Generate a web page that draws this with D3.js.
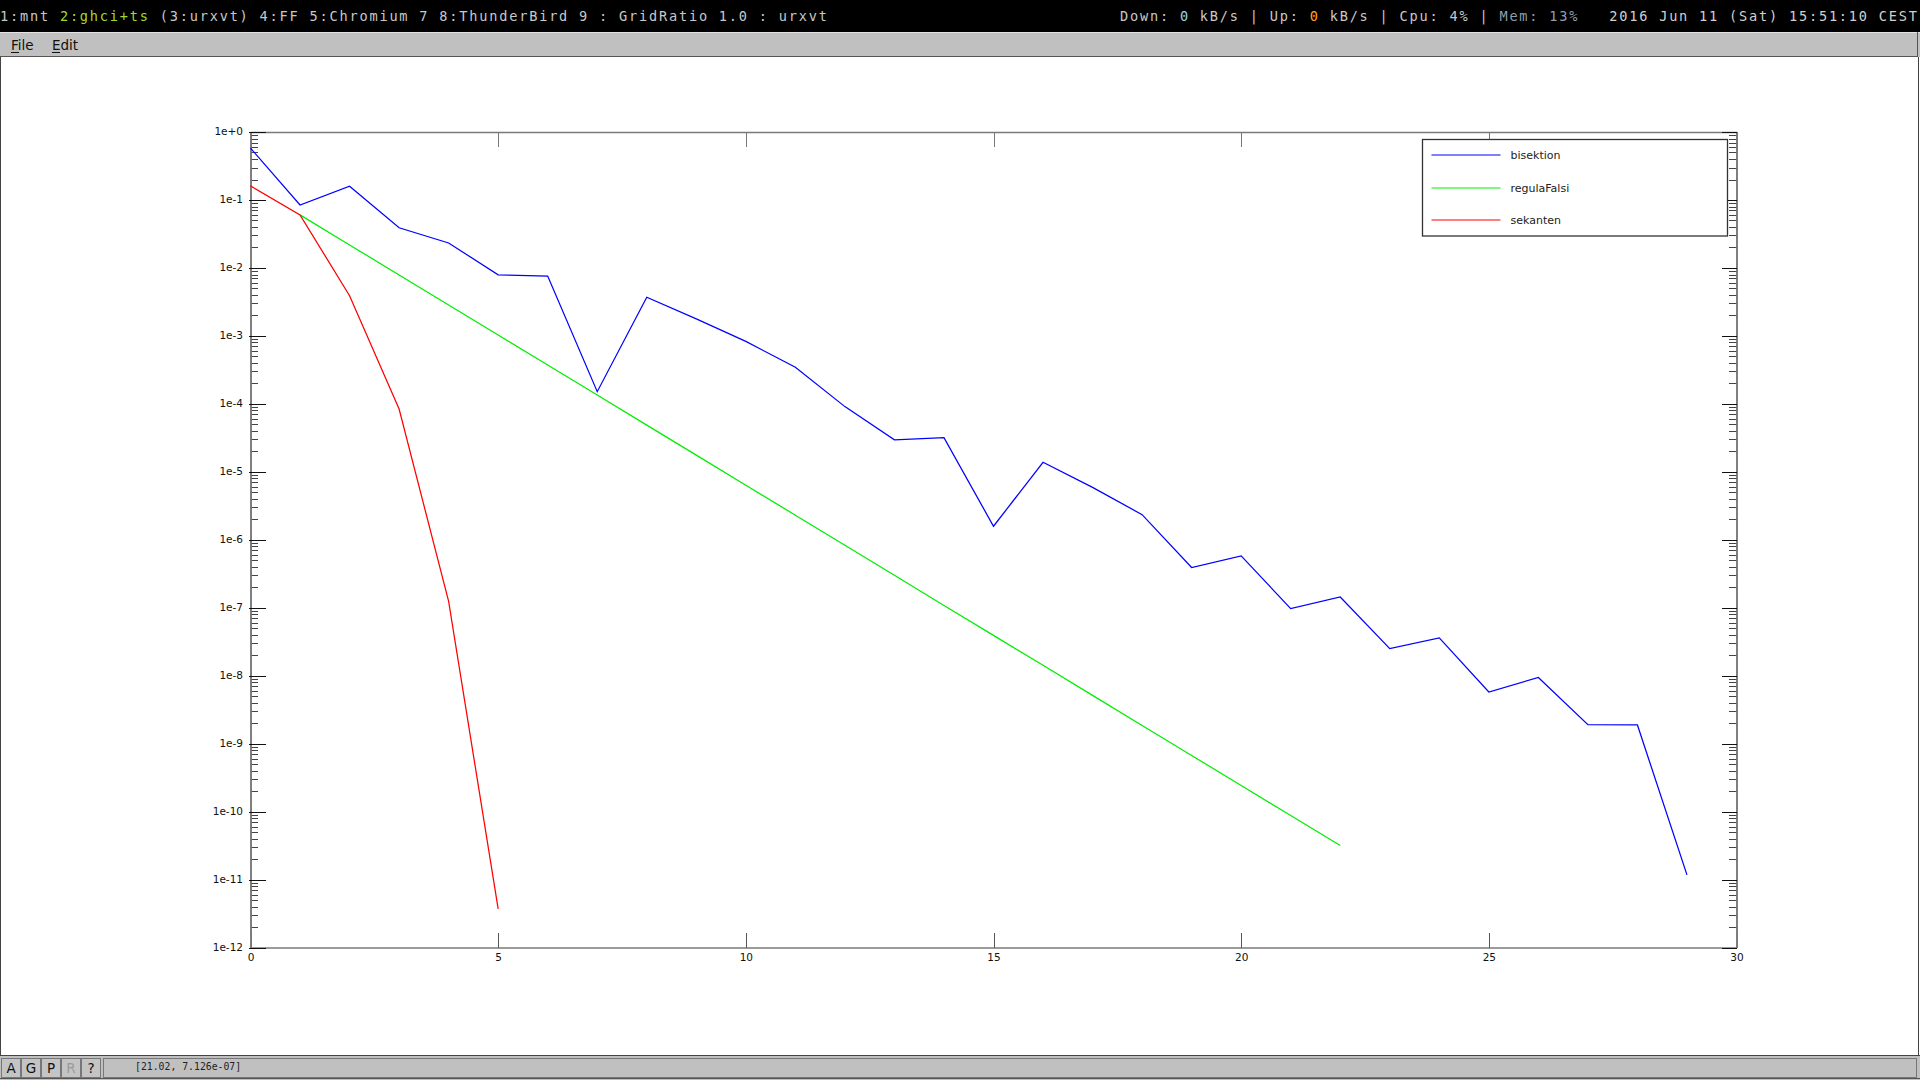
<!DOCTYPE html>
<html>
<head>
<meta charset="utf-8">
<script src="https://cdn.jsdelivr.net/npm/d3@7"></script>
<style>
  html, body { margin: 0; padding: 0; background: #fff; overflow: hidden; }
  svg { display: block; }
  text { font-family: "DejaVu Sans", sans-serif; }
  .mono { font-family: "DejaVu Sans Mono", monospace; }
</style>
</head>
<body>
<svg id="screen" width="1920" height="1080"></svg>
<script>
// ---------- DATA ----------
const seriesNames = ["bisektion", "regulaFalsi", "sekanten"];
const seriesColors = ["#0000ff", "#00ee00", "#ff0000"];

// error per iteration, index = iteration number (null = not drawn)
const bisektion = [0.58, 0.0844, 0.159, 0.039, 0.0233, 0.0079, 0.0076, 1.51e-4, 3.7e-3, 1.78e-3,
  8.3e-4, 3.45e-4, 9.1e-5, 2.95e-5, 3.17e-5, 1.58e-6, 1.38e-5, 5.9e-6, 2.34e-6, 3.9e-7,
  5.8e-7, 9.7e-8, 1.44e-7, 2.5e-8, 3.6e-8, 5.75e-9, 9.4e-9, 1.9e-9, 1.88e-9, 1.17e-11];
const regulaFalsi = [null, 6.03e-2, 2.18e-2, 7.87e-3, 2.85e-3, 1.03e-3, 3.72e-4, 1.35e-4, 4.86e-5, 1.76e-5,
  6.35e-6, 2.30e-6, 8.30e-7, 3.00e-7, 1.08e-7, 3.92e-8, 1.42e-8, 5.13e-9, 1.85e-9, 6.70e-10,
  2.42e-10, 8.75e-11, 3.16e-11];
const sekanten = [0.161, 6.03e-2, 3.9e-3, 8.4e-5, 1.24e-7, 3.7e-12];

const xTicks = [0, 5, 10, 15, 20, 25, 30];
const yDecades = d3.range(0, -13, -1).map(e => Math.pow(10, e)); // 1e+0 .. 1e-12

// window chrome texts
const barLeft = [
  ["1:mnt ", "#c8c8c8"], ["2:ghci+ts", "#a6d82a"], [" (3:urxvt) 4:FF 5:Chromium 7 8:ThunderBird 9 : GridRatio 1.0 : urxvt", "#c8c8c8"]
];
const barRight = [
  ["Down: ", "#c8c8c8"], ["0", "#8fd3ea"], [" kB/s | Up: ", "#c8c8c8"], ["0", "#ffa21a"],
  [" kB/s | Cpu: 4% | ", "#c8c8c8"], ["Mem: 13%", "#8d9fae"], ["   2016 Jun 11 (Sat) 15:51:10 CEST", "#d0d0d0"]
];
const buttons = ["A", "G", "P", "R", "?"];
const statusText = "[21.02, 7.126e-07]";

// ---------- LAYOUT ----------
const W = 1920, H = 1080;
const plot = { left: 250.5, right: 1736.5, top: 132, bottom: 947.5 };

const svg = d3.select("#screen");

// ---------- WINDOW CHROME ----------
svg.append("rect").attr("x", 0).attr("y", 0).attr("width", W).attr("height", 32).attr("fill", "#000");

function monoRun(x0, y, runs) {
  const t = svg.append("text").attr("class", "mono").attr("x", x0).attr("y", y)
    .attr("font-size", 13.6).attr("letter-spacing", 1.8);
  runs.forEach(([s, c]) => t.append("tspan").attr("fill", c).attr("xml:space", "preserve").text(s));
  return t;
}
monoRun(0, 20.5, barLeft).style("white-space", "pre");
monoRun(1120, 20.5, barRight).style("white-space", "pre");

// menu bar
svg.append("rect").attr("x", 0).attr("y", 32).attr("width", W).attr("height", 25).attr("fill", "#c0c0c0");
svg.append("line").attr("x1", 0).attr("x2", W).attr("y1", 32.5).attr("y2", 32.5).attr("stroke", "#e4e4e4");
svg.append("line").attr("x1", 0).attr("x2", 1918).attr("y1", 56.5).attr("y2", 56.5).attr("stroke", "#555");
svg.append("line").attr("x1", 1917.5).attr("x2", 1917.5).attr("y1", 32).attr("y2", 57).attr("stroke", "#555");
[["File", 11], ["Edit", 52]].forEach(([s, x]) => {
  svg.append("text").attr("x", x).attr("y", 49.5).attr("font-size", 13.5).attr("fill", "#111").text(s);
  svg.append("line").attr("x1", x).attr("x2", x + 8).attr("y1", 52.5).attr("y2", 52.5).attr("stroke", "#111");
});

// white drawing area borders
svg.append("line").attr("x1", 0.5).attr("x2", 0.5).attr("y1", 57).attr("y2", 1056).attr("stroke", "#444");
svg.append("line").attr("x1", 1918.5).attr("x2", 1918.5).attr("y1", 57).attr("y2", 1056).attr("stroke", "#444");

// bottom bar
svg.append("rect").attr("x", 0).attr("y", 1056).attr("width", W).attr("height", 24).attr("fill", "#c0c0c0");
svg.append("line").attr("x1", 0).attr("x2", W).attr("y1", 1055.5).attr("y2", 1055.5).attr("stroke", "#444");
svg.append("line").attr("x1", 0).attr("x2", W).attr("y1", 1078.5).attr("y2", 1078.5).attr("stroke", "#555");
const btn = svg.append("g").selectAll("g").data(buttons).join("g")
  .attr("transform", (d, i) => `translate(${1 + i * 20},1058)`);
btn.append("rect").attr("x", 0.5).attr("y", 0.5).attr("width", 19).attr("height", 19)
  .attr("fill", "#c4c4c4").attr("stroke", "#777");
btn.append("text").attr("x", 10).attr("y", 15).attr("text-anchor", "middle").attr("font-size", 13.5)
  .attr("fill", d => d === "R" ? "#9a9a9a" : "#111").text(d => d);
svg.append("rect").attr("x", 103.5).attr("y", 1058.5).attr("width", 1813).attr("height", 19)
  .attr("fill", "#c0c0c0").attr("stroke", "#777");
svg.append("text").attr("class", "mono").attr("x", 135).attr("y", 1070).attr("font-size", 9.8)
  .attr("fill", "#222").text(statusText);

// ---------- SCALES ----------
const x = d3.scaleLinear().domain([0, 30]).range([plot.left, plot.right]);
const y = d3.scaleLog().domain([1e-12, 1]).range([plot.bottom, plot.top]);

const minorTicks = [];
yDecades.slice(1).forEach(d => { for (let k = 2; k <= 9; k++) minorTicks.push(d * k); });

const fmtExp = d => {
  const e = Math.round(Math.log10(d));
  return "1e" + (e >= 0 ? "+" + e : e);
};

function styleAxis(g, color, width) {
  g.select(".domain").attr("stroke", "#7a7a7a").attr("stroke-width", 1.6);
  g.selectAll(".tick line").attr("stroke", color).attr("stroke-width", width).attr("shape-rendering", "crispEdges");
  g.selectAll(".tick text").attr("font-family", "DejaVu Sans").attr("font-size", 10.5).attr("fill", "#111");
}

// x axes (ticks point inward)
const gxb = svg.append("g").attr("transform", `translate(0,${plot.bottom})`)
  .call(d3.axisBottom(x).tickValues(xTicks).tickSizeInner(-15).tickSizeOuter(0).tickPadding(6).tickFormat(d3.format("d")));
styleAxis(gxb, "#555", 1);
const gxt = svg.append("g").attr("transform", `translate(0,${plot.top})`)
  .call(d3.axisTop(x).tickValues(xTicks).tickSizeInner(-15).tickSizeOuter(0).tickFormat(""));
styleAxis(gxt, "#777", 1);

// y axes: minor ticks
const gylm = svg.append("g").attr("transform", `translate(${plot.left},0)`)
  .call(d3.axisLeft(y).tickValues(minorTicks).tickSizeInner(-7.5).tickSizeOuter(0).tickFormat(""));
styleAxis(gylm, "#444", 1);
const gyrm = svg.append("g").attr("transform", `translate(${plot.right},0)`)
  .call(d3.axisRight(y).tickValues(minorTicks).tickSizeInner(-7.5).tickSizeOuter(0).tickFormat(""));
styleAxis(gyrm, "#444", 1);

// y axes: decade ticks
const gyl = svg.append("g").attr("transform", `translate(${plot.left},0)`)
  .call(d3.axisLeft(y).tickValues(yDecades).tickSizeInner(-15).tickSizeOuter(0).tickPadding(7.5).tickFormat(fmtExp));
styleAxis(gyl, "#111", 1);
gyl.selectAll(".tick line").attr("x1", -2);
gyl.selectAll(".tick text").attr("dy", "0.25em");
const gyr = svg.append("g").attr("transform", `translate(${plot.right},0)`)
  .call(d3.axisRight(y).tickValues(yDecades).tickSizeInner(-15).tickSizeOuter(0).tickFormat(""));
styleAxis(gyr, "#111", 1);

// ---------- LINES ----------
const line = d3.line().defined(d => d != null).x((d, i) => x(i)).y(d => y(d));
[bisektion, regulaFalsi, sekanten].forEach((data, k) => {
  svg.append("path").datum(data).attr("d", line).attr("fill", "none")
    .attr("stroke", seriesColors[k]).attr("stroke-width", 1.25);
});

// ---------- LEGEND ----------
const lg = svg.append("g").attr("transform", "translate(1422.5,139.5)");
lg.append("rect").attr("width", 305).attr("height", 96.5).attr("fill", "#fff")
  .attr("stroke", "#333").attr("stroke-width", 1.3);
const rowY = [15.5, 48.5, 80.5];
const item = lg.selectAll("g.item").data(seriesNames).join("g").attr("class", "item")
  .attr("transform", (d, i) => `translate(0,${rowY[i]})`);
item.append("line").attr("x1", 9).attr("x2", 78).attr("stroke", (d, i) => seriesColors[i]).attr("stroke-width", 1.2);
item.append("text").attr("x", 88).attr("dy", "0.35em").attr("font-size", 11).attr("fill", "#222").text(d => d);
</script>
</body>
</html>
